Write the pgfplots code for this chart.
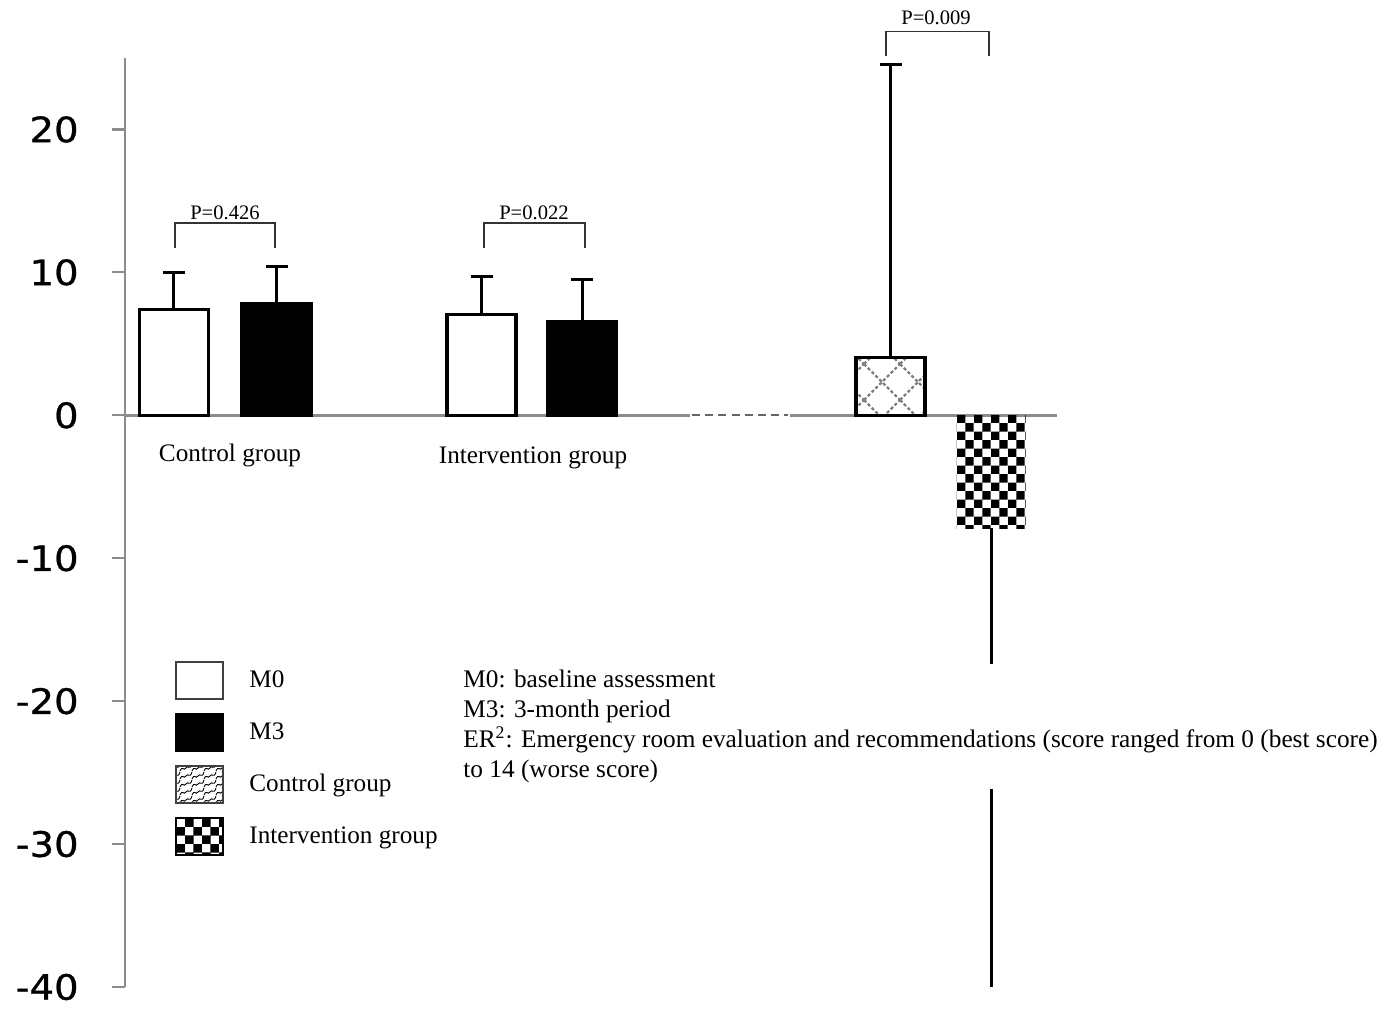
\documentclass[border=0pt]{standalone}
\usepackage{fontspec}
\setmainfont{Liberation Serif}
\newfontfamily\tickfont[FakeStretch=1.1, FakeBold=0.8]{DejaVu Sans}
\usepackage{pgfplots}
\pgfplotsset{compat=1.18}
\usetikzlibrary{patterns}

\pgfdeclarepatternformonly{bigcheck}{\pgfpointorigin}{\pgfqpoint{8.4pt}{8.4pt}}{\pgfqpoint{8.4pt}{8.4pt}}{%
  \pgfpathrectangle{\pgfpointorigin}{\pgfqpoint{4.25pt}{4.25pt}}%
  \pgfpathrectangle{\pgfqpoint{4.2pt}{4.2pt}}{\pgfqpoint{4.25pt}{4.25pt}}%
  \pgfusepath{fill}}

\pgfdeclarepatternformonly{bigcross}{\pgfqpoint{-1pt}{-1pt}}{\pgfqpoint{19pt}{19pt}}{\pgfqpoint{18pt}{18pt}}{%
  \pgfsetlinewidth{1.1pt}%
  \pgfsetdash{{1.6pt}{1.1pt}}{0pt}%
  \pgfpathmoveto{\pgfqpoint{0pt}{0pt}}\pgfpathlineto{\pgfqpoint{18pt}{18pt}}%
  \pgfpathmoveto{\pgfqpoint{0pt}{18pt}}\pgfpathlineto{\pgfqpoint{18pt}{0pt}}%
  \pgfusepath{stroke}}

\pgfdeclarepatternformonly{zigzag}{\pgfqpoint{-1pt}{-1pt}}{\pgfqpoint{7pt}{5pt}}{\pgfqpoint{6pt}{4pt}}{%
  \pgfsetlinewidth{0.45pt}%
  \pgfpathmoveto{\pgfqpoint{0pt}{0.5pt}}%
  \pgfpathcurveto{\pgfqpoint{1pt}{3.5pt}}{\pgfqpoint{2pt}{0.2pt}}{\pgfqpoint{3pt}{2pt}}%
  \pgfpathcurveto{\pgfqpoint{4pt}{3.8pt}}{\pgfqpoint{5pt}{0.5pt}}{\pgfqpoint{6pt}{4pt}}%
  \pgfusepath{stroke}}

\definecolor{axgray}{HTML}{8C8C8C}

\begin{document}
\begin{tikzpicture}
\begin{axis}[
  scale only axis, width=466pt, height=464.5pt,
  xmin=125, xmax=1057, ymin=-40, ymax=25,
  axis y line*=left, axis x line=none,
  y axis line style={draw=axgray, line width=1.3pt, -},
  ytick={-40,-30,-20,-10,0,10,20},
  yticklabels={-40,-30,-20,-10,0,10,20},
  tick align=outside, major tick length=6.5pt,
  ytick style={draw=axgray, line width=1.1pt},
  yticklabel style={font=\tickfont\fontsize{17.5}{17.5}\selectfont, inner sep=0pt, xshift=-16.5pt},
  clip=false,
  legend image code/.code={\draw[#1] (0pt,-9.25pt) rectangle (23.5pt,9.25pt);},
  legend style={at={(axis cs:175,-17.17)}, anchor=north west, draw=none, fill=none,
    inner sep=0pt, row sep=6.5pt, nodes={inner sep=0pt},
    font=\fontsize{12.6}{14}\selectfont,
    /tikz/every odd column/.append style={column sep=12.5pt}},
  legend cell align=left,
  mybar/.style={ybar, bar width=69, bar shift=0pt, forget plot},
  ebar/.style={error bars/.cd, y dir=plus, y explicit,
    error bar style={line width=1.5pt, black},
    error mark options={rotate=90, mark size=5.5pt, line width=1.5pt, black}},
]
% zero line
\draw[axgray, line width=1.5pt] (axis cs:125,0) -- (axis cs:690,0);
\draw[black!60, line width=1pt, dash pattern=on 4pt off 2.6pt] (axis cs:692,0) -- (axis cs:788,0);
\draw[axgray, line width=1.5pt] (axis cs:790,0) -- (axis cs:1057,0);

% Control group M0 / M3
\addplot[mybar, draw=black, line width=1.6pt, fill=white, ebar] coordinates {(174,7.43) +- (0,2.59)};
\addplot[mybar, draw=black, line width=1.6pt, fill=black, ebar] coordinates {(276.5,7.85) +- (0,2.59)};
% Intervention group M0 / M3
\addplot[mybar, draw=black, line width=1.6pt, fill=white, ebar] coordinates {(481.5,7.08) +- (0,2.66)};
\addplot[mybar, draw=black, line width=1.6pt, fill=black, ebar] coordinates {(582,6.59) +- (0,2.94)};
% ER2 control / intervention
\addplot[mybar, draw=black, line width=1.6pt, pattern=bigcross, pattern color=gray, ebar] coordinates {(890.5,4.06) +- (0,20.47)};
\addplot[mybar, draw=none, pattern=bigcheck, pattern color=black,
  error bars/.cd, y dir=minus, y explicit, error mark=none,
  error bar style={line width=1.5pt, black}] coordinates {(991,-7.92) +- (0,32.08)};

% legend entries
\addlegendimage{draw=black!75, line width=1pt, fill=white}
\addlegendentry{M0}
\addlegendimage{draw=black, line width=1pt, fill=black}
\addlegendentry{M3}
\addlegendimage{draw=black!75, line width=1pt, pattern=zigzag, pattern color=black}
\addlegendentry{Control group}
\addlegendimage{draw=black, line width=1pt, pattern=bigcheck, pattern color=black}
\addlegendentry{Intervention group}

% p-value brackets
\draw[black!80, line width=0.7pt] (axis cs:175,11.7) -- (axis cs:175,13.45) -- (axis cs:275,13.45) -- (axis cs:275,11.7);
\node[anchor=base, font=\fontsize{10.3}{12}\selectfont, inner sep=0pt] at (axis cs:225,13.73) {P=0.426};
\draw[black!80, line width=0.7pt] (axis cs:484,11.7) -- (axis cs:484,13.45) -- (axis cs:585,13.45) -- (axis cs:585,11.7);
\node[anchor=base, font=\fontsize{10.3}{12}\selectfont, inner sep=0pt] at (axis cs:534,13.73) {P=0.022};
\draw[black!80, line width=0.7pt] (axis cs:886,25.16) -- (axis cs:886,26.84) -- (axis cs:989,26.84) -- (axis cs:989,25.16);
\node[anchor=base, font=\fontsize{10.3}{12}\selectfont, inner sep=0pt] at (axis cs:936,27.33) {P=0.009};

% group labels
\node[anchor=base, font=\fontsize{12.6}{14}\selectfont, inner sep=0pt] at (axis cs:230,-3.22) {Control group};
\node[anchor=base, font=\fontsize{12.6}{14}\selectfont, inner sep=0pt] at (axis cs:533,-3.36) {Intervention group};

% note block
\node[anchor=north west, fill=white, inner sep=3pt, align=left, font=\fontsize{12.65}{15}\selectfont]
  at (axis cs:457,-17.38) {M0: baseline assessment\\M3: 3-month period\\ER\textsuperscript{2}: Emergency room evaluation and recommendations (score ranged from 0 (best score)\\to 14 (worse score)};
\end{axis}
\pgfresetboundingbox
\path[use as bounding box] ([xshift=-62.5pt,yshift=-12.5pt]current axis.south west) rectangle ++(698pt,506pt);
\end{tikzpicture}
\end{document}
